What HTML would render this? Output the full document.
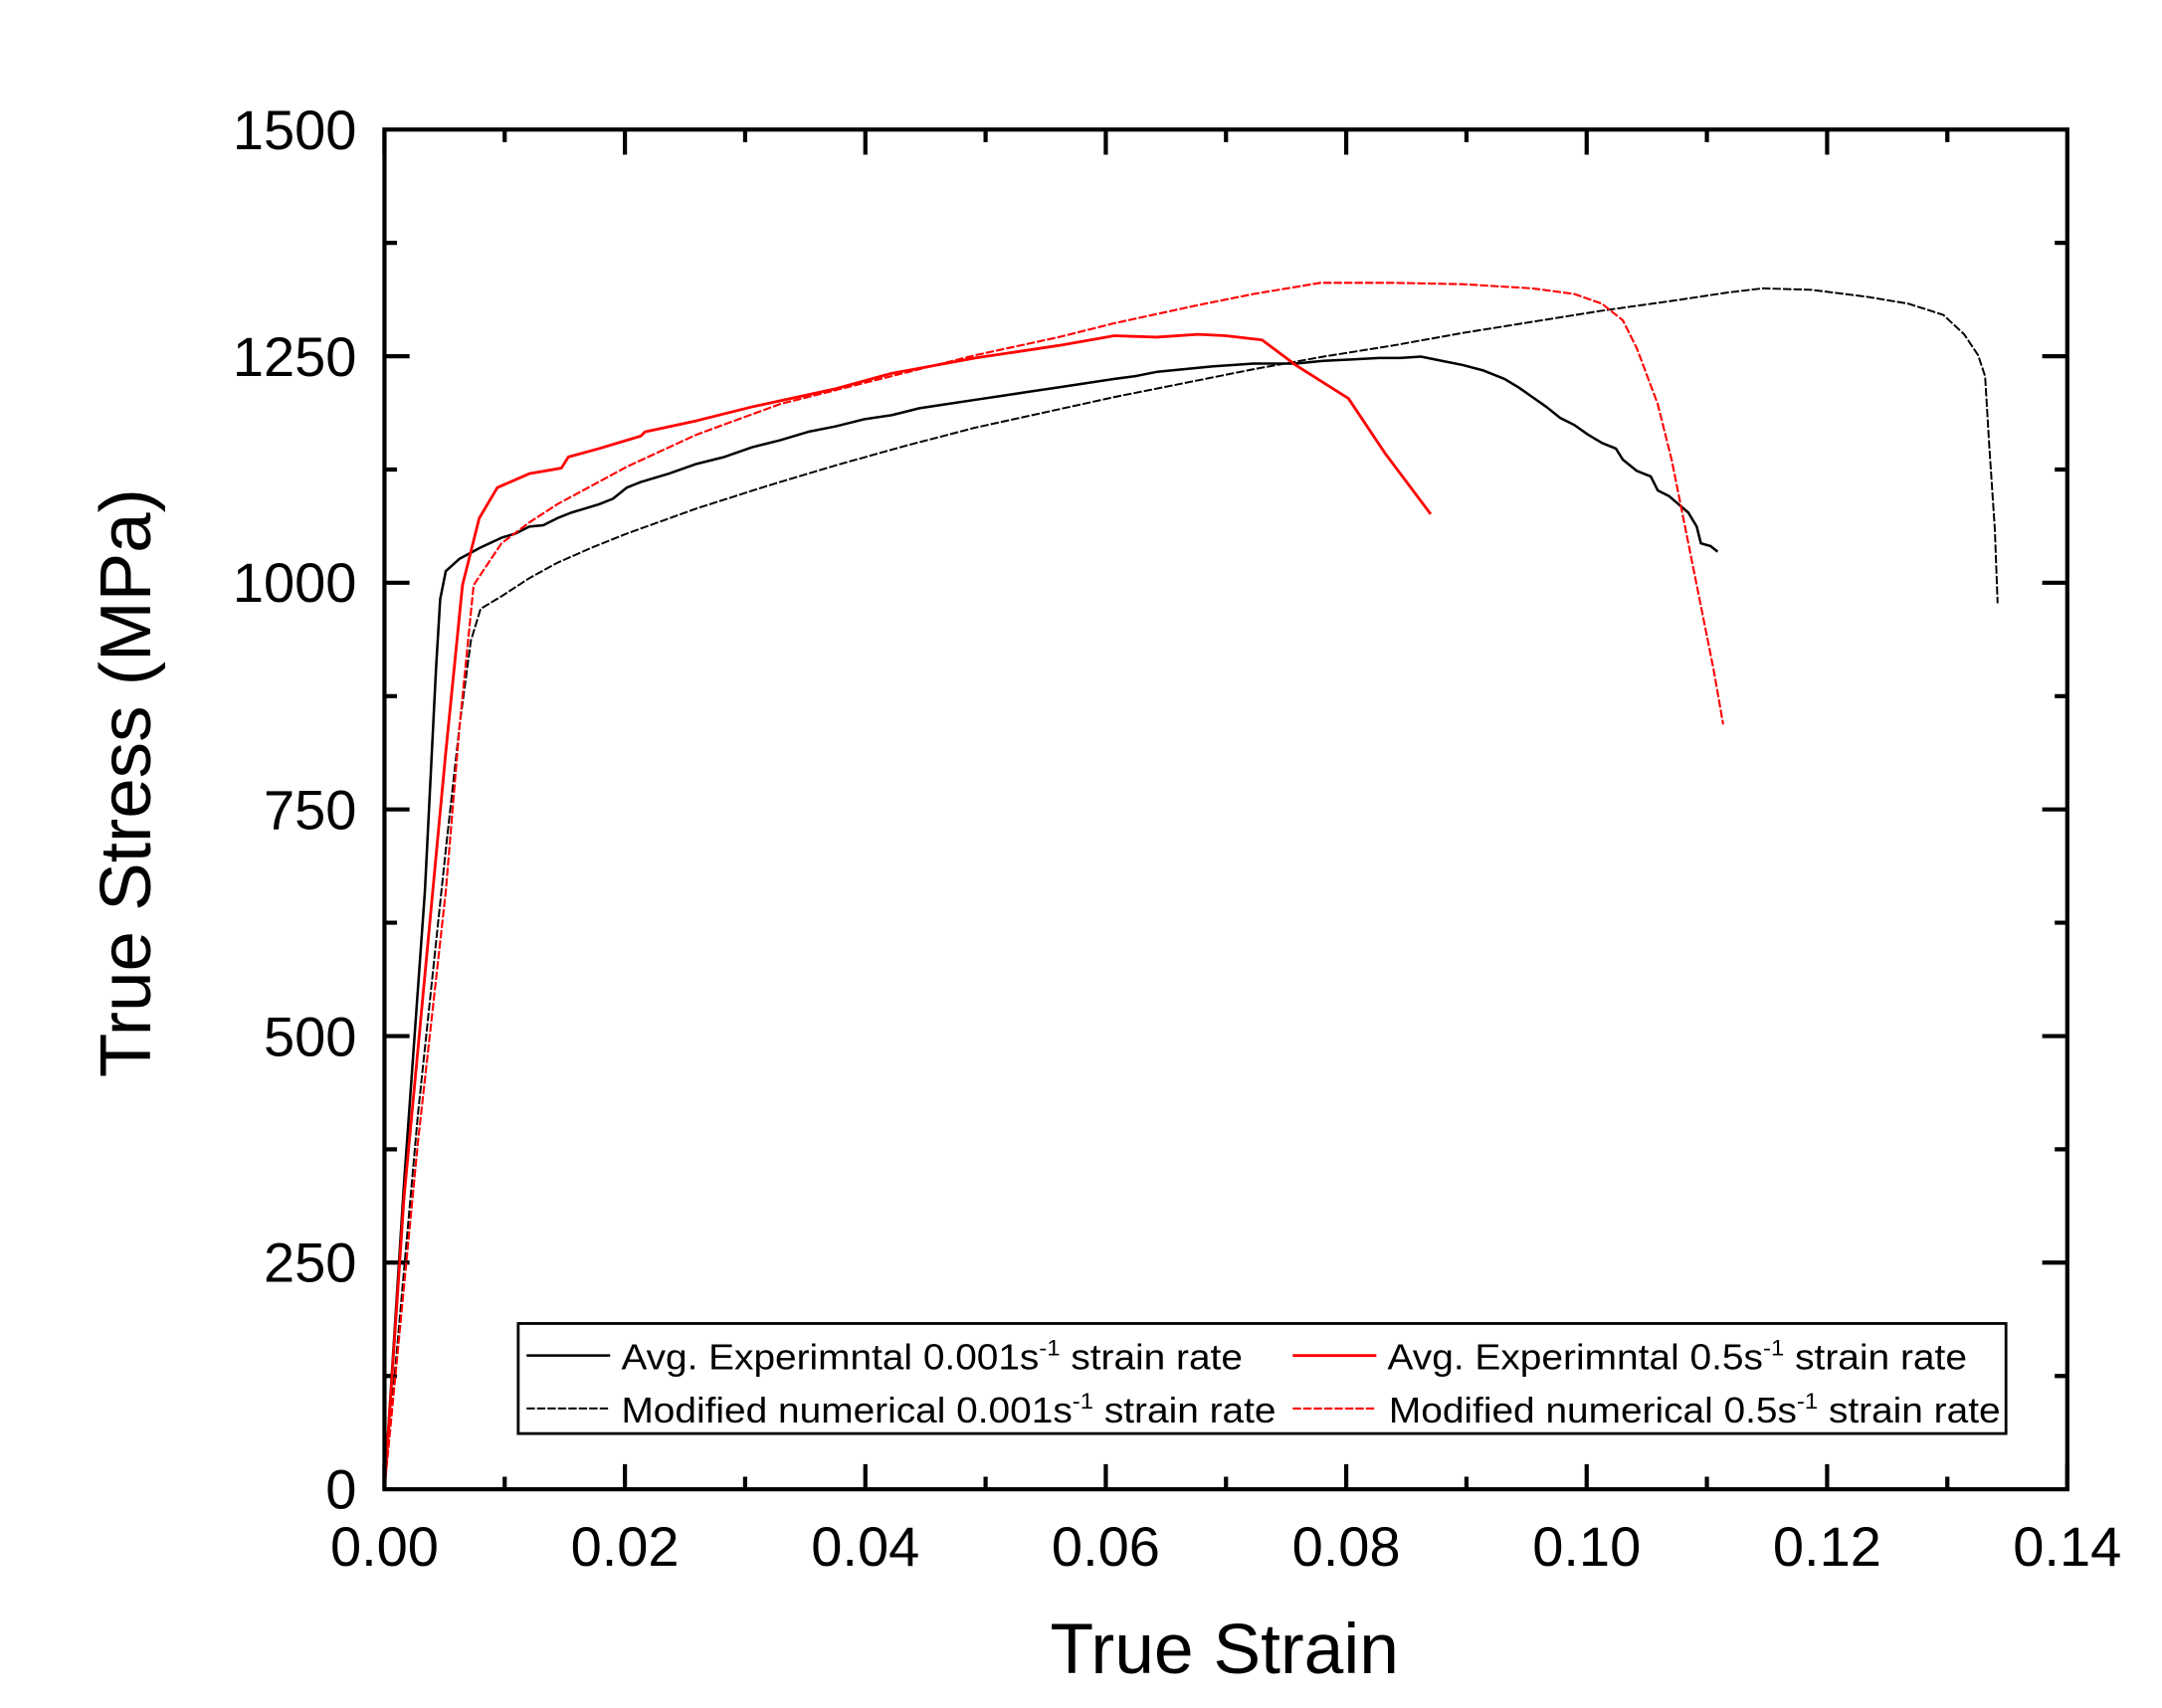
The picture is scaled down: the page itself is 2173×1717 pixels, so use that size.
<!DOCTYPE html>
<html><head><style>html,body{margin:0;padding:0;background:#fff}svg{display:block}</style></head><body>
<svg width="2173" height="1717" viewBox="0 0 1552 1226" preserveAspectRatio="none" xmlns="http://www.w3.org/2000/svg" font-family="Liberation Sans, sans-serif">
<rect width="1552" height="1226" fill="#fff"/>
<g stroke="#000" stroke-width="3" fill="none">
<path d="M276,1069V1051M448.6,1069V1051M621.2,1069V1051M793.8,1069V1051M966.4,1069V1051M1139,1069V1051M1311.6,1069V1051M1484,1069V1051"/>
<path d="M362.3,1069V1060M534.9,1069V1060M707.5,1069V1060M880.1,1069V1060M1052.7,1069V1060M1225.3,1069V1060M1397.9,1069V1060"/>
<path d="M276,93V111M448.6,93V111M621.2,93V111M793.8,93V111M966.4,93V111M1139,93V111M1311.6,93V111"/>
<path d="M362.3,93V102M534.9,93V102M707.5,93V102M880.1,93V102M1052.7,93V102M1225.3,93V102M1397.9,93V102"/>
<path d="M276,906.3H294M276,743.7H294M276,581H294M276,418.3H294M276,255.7H294M1484,906.3H1466M1484,743.7H1466M1484,581H1466M1484,418.3H1466M1484,255.7H1466"/>
<path d="M276,987.7H285M276,825H285M276,662.3H285M276,499.7H285M276,337H285M276,174.3H285M1484,987.7H1475M1484,825H1475M1484,662.3H1475M1484,499.7H1475M1484,337H1475M1484,174.3H1475"/>
</g>
<g fill="none" stroke-width="1.8" stroke-linejoin="round">
<polyline stroke="#000" points="276,1069 290,850 305,640 313,480 316,430 320,410 330,401 345,393 360,386 370,383 380,378 390,377 400,372 410,368 420,365 430,362 440,358 450,350 460,346 480,340 500,333 520,328 540,321 560,316 580,310 600,306 620,301 640,298 660,293 680,290 700,287 720,284 740,281 760,278 780,275 800,272 815,270 830,267 850,265 870,263 900,261 930,261 950,259 970,258 990,257 1005,257 1020,256 1035,259 1050,262 1065,266 1080,272 1090,278 1100,285 1110,292 1120,300 1130,305 1140,312 1150,318 1160,322 1165,330 1175,338 1185,342 1190,352 1198,356 1205,362 1212,368 1218,378 1221,390 1228,392 1233,396"/>
<polyline stroke="#000" stroke-width="1.4" stroke-dasharray="6,1.5" points="276,1069 300,800 320,610 330,520 338,460 345,437 360,428 380,415 400,404 425,393 450,383 475,374 500,365 550,349 600,334 650,320 700,307 750,296 800,285 850,275 900,265 950,256 1000,248 1050,239 1100,231 1150,223 1200,216 1240,210 1265,207 1300,208 1340,213 1370,218 1395,226 1410,240 1420,255 1425,270 1428,320 1432,380 1434,433"/>
<polyline stroke="#f00" stroke-width="2" points="276,1069 290,860 305,700 320,540 332,420 344,372 357,350 380,340 403,336 408,328 430,322 460,313 463,310 500,302 540,292 600,279 640,268 700,257 760,248 800,241 830,242 860,240 880,241 906,244 930,262 968,286 994,325 1027,369"/>
<polyline stroke="#f00" stroke-width="1.5" stroke-dasharray="6,1.5" points="276,1069 300,820 320,640 330,520 340,420 360,390 380,375 400,362 450,335 500,312 560,290 640,270 700,255 760,242 800,232 860,219 900,211 948,203 1000,203 1050,204 1100,207 1130,211 1150,218 1165,230 1175,250 1190,290 1200,330 1210,380 1220,430 1230,480 1237,520"/>
</g>
<rect x="276" y="93" width="1208" height="976" fill="none" stroke="#000" stroke-width="3"/>
<g font-size="40" fill="#000" text-anchor="end">
<text x="256" y="1083">0</text><text x="256" y="920">250</text><text x="256" y="758">500</text><text x="256" y="595">750</text><text x="256" y="432">1000</text><text x="256" y="270">1250</text><text x="256" y="107">1500</text>
</g>
<g font-size="40" fill="#000" text-anchor="middle">
<text x="276" y="1124">0.00</text><text x="448.6" y="1124">0.02</text><text x="621.2" y="1124">0.04</text><text x="793.8" y="1124">0.06</text><text x="966.4" y="1124">0.08</text><text x="1139" y="1124">0.10</text><text x="1311.6" y="1124">0.12</text><text x="1484" y="1124">0.14</text>
</g>
<text x="879" y="1201" font-size="51" text-anchor="middle">True Strain</text>
<text transform="translate(108,562) rotate(-90)" font-size="52" text-anchor="middle">True Stress (MPa)</text>
<rect x="372" y="950" width="1068" height="79" fill="#fff" stroke="#000" stroke-width="2"/>
<line x1="378" y1="973" x2="438" y2="973" stroke="#000" stroke-width="1.8"/>
<line x1="378" y1="1011" x2="438" y2="1011" stroke="#000" stroke-width="1.4" stroke-dasharray="6,1.5"/>
<line x1="928" y1="973" x2="988" y2="973" stroke="#f00" stroke-width="2"/>
<line x1="928" y1="1011" x2="988" y2="1011" stroke="#f00" stroke-width="1.5" stroke-dasharray="6,1.5"/>
<g font-size="26" fill="#000">
<text x="446" y="983" textLength="446" lengthAdjust="spacingAndGlyphs">Avg. Experimntal 0.001s<tspan font-size="16" dy="-10">-1</tspan><tspan dy="10"> strain rate</tspan></text>
<text x="446" y="1021" textLength="470" lengthAdjust="spacingAndGlyphs">Modified numerical 0.001s<tspan font-size="16" dy="-10">-1</tspan><tspan dy="10"> strain rate</tspan></text>
<text x="996" y="983" textLength="416" lengthAdjust="spacingAndGlyphs">Avg. Experimntal 0.5s<tspan font-size="16" dy="-10">-1</tspan><tspan dy="10"> strain rate</tspan></text>
<text x="997" y="1021" textLength="439" lengthAdjust="spacingAndGlyphs">Modified numerical 0.5s<tspan font-size="16" dy="-10">-1</tspan><tspan dy="10"> strain rate</tspan></text>
</g>
</svg>
</body></html>
